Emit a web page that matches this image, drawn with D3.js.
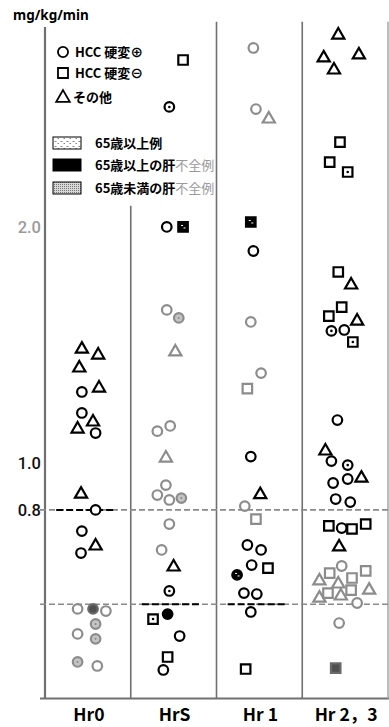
<!DOCTYPE html>
<html><head><meta charset="utf-8">
<script src="https://cdn.jsdelivr.net/npm/d3@7"></script>
<style>
html,body{margin:0;padding:0;background:#fff;}
svg{display:block;}
</style></head>
<body>
<script>
// ---- data ----
const categories = ["Hr0", "HrS", "Hr1", "Hr2,3"];
const categoryLabels = ["Hr0", "HrS", "Hr 1", "Hr 2，3"];
const tickValues = [2.0, 1.0, 0.8];
const tickLabels = ["2.0", "1.0", "0.8"];
const referenceLines = [0.8, 0.4];
const medianCats = ["Hr0", "HrS", "Hr1"];
const medianValues = [0.8, 0.4, 0.4];
// [value, jitter (fraction of column), shape, kind]
const hr0 = [
 [1.486,-0.07,'t','k'],[1.461,0.12,'t','k'],[1.406,-0.10,'t','k'],[1.321,0.13,'t','k'],
 [1.300,-0.07,'o','k'],[1.211,-0.07,'o','k'],[1.177,0.06,'t','k'],[1.147,-0.12,'t','k'],
 [1.126,0.09,'o','k'],[0.871,-0.08,'t','k'],[0.800,0.09,'o','k'],[0.710,-0.07,'o','k'],
 [0.651,0.09,'t','k'],[0.617,-0.08,'o','k'],
 [0.380,-0.12,'o','g'],[0.380,0.06,'o','gf'],[0.371,0.21,'o','g'],[0.316,0.09,'o','gd'],
 [0.274,-0.12,'o','g'],[0.253,0.09,'o','gd'],[0.155,-0.12,'o','gd'],[0.138,0.11,'o','g']
];
const hrS = [
 [2.708,0.11,'s','k'],[2.509,-0.05,'o','kd'],[2.000,-0.08,'o','k'],[2.000,0.11,'s','kfw'],
 [1.648,-0.08,'o','g'],[1.614,0.06,'o','gd'],[1.474,0.02,'t','g'],[1.156,-0.04,'o','g'],
 [1.134,-0.19,'o','g'],[1.024,-0.09,'t','g'],[0.905,-0.09,'o','g'],[0.863,-0.19,'o','g'],
 [0.842,-0.05,'o','g'],[0.850,0.09,'o','gd'],[0.740,-0.05,'o','g'],[0.630,-0.14,'o','g'],
 [0.562,0.00,'t','k'],[0.456,-0.05,'o','kd'],[0.358,-0.07,'o','kf'],[0.337,-0.24,'s','kd'],
 [0.265,0.07,'o','k'],[0.176,-0.07,'s','k'],[0.121,-0.12,'o','k']
];
const hr1 = [
 [2.759,-0.07,'o','g'],[2.500,-0.04,'o','g'],[2.462,0.11,'t','g'],[2.021,-0.10,'s','kfw'],
 [1.898,-0.07,'o','k'],[1.597,-0.10,'o','g'],[1.380,0.02,'o','g'],[1.314,-0.14,'s','g'],
 [1.026,-0.10,'o','k'],[0.869,0.01,'t','k'],[0.816,-0.17,'o','g'],[0.761,-0.04,'s','g'],
 [0.651,-0.14,'o','k'],[0.630,0.02,'o','k'],[0.566,-0.09,'o','k'],[0.553,0.10,'s','k'],
 [0.524,-0.26,'o','kfw'],[0.447,-0.18,'o','k'],[0.443,-0.03,'o','k'],[0.367,-0.10,'o','k'],
 [0.125,-0.16,'s','k']
];
const hr23 = [
 [2.818,-0.08,'t','k'],[2.721,-0.25,'t','k'],[2.734,0.16,'t','k'],[2.670,-0.13,'t','k'],
 [2.360,-0.06,'s','k'],[2.275,-0.18,'s','k'],[2.233,0.03,'s','kd'],[1.809,-0.08,'s','k'],
 [1.758,0.07,'t','k'],[1.660,-0.04,'s','k'],[1.622,-0.19,'s','k'],[1.605,0.14,'t','k'],
 [1.559,-0.16,'o','kd'],[1.563,-0.01,'o','k'],[1.512,0.09,'s','kd'],[1.181,-0.09,'o','k'],
 [1.054,-0.23,'t','k'],[1.007,-0.16,'o','k'],[0.990,0.03,'o','kd'],[0.931,0.03,'o','k'],
 [0.939,0.19,'t','k'],[0.914,-0.14,'o','k'],[0.846,-0.11,'o','k'],[0.833,0.06,'o','k'],
 [0.732,-0.19,'s','k'],[0.723,-0.04,'o','k'],[0.719,0.08,'s','k'],[0.740,0.24,'s','k'],
 [0.647,-0.07,'t','k'],
 [0.562,-0.04,'o','g'],[0.532,-0.18,'s','g'],[0.541,0.24,'s','g'],[0.503,-0.30,'t','g'],
 [0.511,0.08,'s','g'],[0.490,-0.08,'t','g'],[0.460,0.07,'s','g'],[0.464,0.28,'t','g'],
 [0.430,-0.30,'t','g'],[0.447,-0.20,'s','g'],[0.439,-0.05,'t','g'],[0.405,0.14,'o','g'],
 [0.320,-0.07,'o','g'],[0.129,-0.11,'s','gf']
];
const seriesByCat = [hr0, hrS, hr1, hr23];
const legendShapes = ['o','s','t'];
const legendShapeLabels = ['HCC 硬変⊕', 'HCC 硬変⊖', 'その他'];
const legendFillKinds = ['light','black','stipple'];
const legendFillLabels = [['65歳以上例',''], ['65歳以上の肝','不全例'], ['65歳未満の肝','不全例']];

// ---- drawing ----
const W = 389, H = 727;
const svg = d3.select('body').append('svg').attr('width', W).attr('height', H)
  .style('font-family', '"Noto Sans CJK JP", "Noto Sans", sans-serif');

const defs = svg.append('defs');
const pLight = defs.append('pattern').attr('id','pLight').attr('width',6).attr('height',5).attr('patternUnits','userSpaceOnUse');
pLight.append('rect').attr('width',6).attr('height',5).attr('fill','#fff');
pLight.append('path').attr('d','M0.5,1.5h2M3.5,3.5h1.5').attr('stroke','#777').attr('stroke-width',0.9);
const pSt = defs.append('pattern').attr('id','pSt').attr('width',2).attr('height',2).attr('patternUnits','userSpaceOnUse');
pSt.append('rect').attr('width',2).attr('height',2).attr('fill','#d8d8d8');
pSt.append('rect').attr('width',1).attr('height',1).attr('fill','#777');

const x = d3.scaleBand().domain(categories).range([45, 388]).paddingInner(0).paddingOuter(0);
const y = d3.scaleLinear().domain([0, 2.848]).range([698.5, 27]);
const bw = x.bandwidth();
const cx = c => x(c) + bw / 2;

const frameColor = '#707070';
// axis frame
svg.append('line').attr('x1', x.range()[0]).attr('x2', x.range()[0]).attr('y1', y(2.848)).attr('y2', y(0))
  .attr('stroke', frameColor).attr('stroke-width', 2.2);
svg.append('line').attr('x1', 40).attr('x2', W).attr('y1', y(0)).attr('y2', y(0))
  .attr('stroke', frameColor).attr('stroke-width', 2);
// column dividers
const dividerTops = [2.09, 2.87, 2.87];
categories.slice(1).forEach((c, i) => {
  svg.append('line').attr('x1', x(c)).attr('x2', x(c)).attr('y1', y(dividerTops[i])).attr('y2', y(0))
    .attr('stroke', frameColor).attr('stroke-width', 1.6);
});
svg.append('line').attr('x1', x.range()[1]).attr('x2', x.range()[1]).attr('y1', y(2.87)).attr('y2', y(0))
  .attr('stroke', '#a0a0a0').attr('stroke-width', 1.4);

// reference dashed lines
svg.selectAll('.ref').data(referenceLines).join('line')
  .attr('x1', 40).attr('x2', W).attr('y1', d => y(d)).attr('y2', d => y(d))
  .attr('stroke', '#8a8a8a').attr('stroke-width', 1.6).attr('stroke-dasharray', '6,3');
// median segments
svg.selectAll('.med').data(medianCats).join('line')
  .attr('x1', (c) => cx(c) - 0.37 * bw).attr('x2', (c) => cx(c) + 0.33 * bw)
  .attr('y1', (c, i) => y(medianValues[i])).attr('y2', (c, i) => y(medianValues[i]))
  .attr('stroke', '#000').attr('stroke-width', 2).attr('stroke-dasharray', '7,3');

// y tick labels
svg.selectAll('.tick').data(tickValues).join('text')
  .attr('x', 41).attr('y', d => y(d)).attr('dy', '0.36em').attr('text-anchor', 'end')
  .attr('font-family', 'Roboto, sans-serif').attr('font-size', 16.5).attr('font-weight', 500)
  .attr('fill', (d, i) => i === 0 ? '#9a9a9a' : '#111')
  .text((d, i) => tickLabels[i]);

// y unit
svg.append('text').attr('x', 13).attr('y', 20).attr('font-size', 13.5).attr('font-weight', 'bold')
  .attr('font-family', '"Noto Sans", sans-serif').text('mg/kg/min');

// x labels
svg.selectAll('.xl').data(categories).join('text')
  .attr('x', d => cx(d) + 1).attr('y', 721).attr('text-anchor', 'middle')
  .attr('font-size', 17.5).attr('font-weight', 'bold').attr('font-family', '"Noto Sans CJK JP", sans-serif')
  .text((d, i) => categoryLabels[i]);

// markers
const shapeType = {o: d3.symbolCircle, s: d3.symbolSquare, t: d3.symbolTriangle};
const shapeSize = {o: 72, s: 90, t: 64};
const style = {
  k:  {stroke:'#000', fill:'#fff'},
  kd: {stroke:'#000', fill:'#fff'},
  g:  {stroke:'#8c8c8c', fill:'#fff'},
  gd: {stroke:'#8c8c8c', fill:'#c4c4c4'},
  gf: {stroke:'#6a6a6a', fill:'#505050'},
  kf: {stroke:'#000', fill:'#000'},
  kfw:{stroke:'#000', fill:'#000'}
};
const sym = d3.symbol();
const pts = [];
seriesByCat.forEach((arr, ci) => arr.forEach(d => pts.push({cat: categories[ci], v: d[0], j: d[1], shape: d[2], kind: d[3]})));
const g = svg.append('g');
const mk = g.selectAll('g.m').data(pts).join('g').attr('class','m')
  .attr('transform', d => `translate(${cx(d.cat) + d.j * bw},${y(d.v) + (d.shape === 't' ? 1 : 0)})`);
mk.append('path')
  .attr('d', d => sym.type(shapeType[d.shape]).size(shapeSize[d.shape])())
  .attr('fill', d => style[d.kind].fill).attr('stroke', d => style[d.kind].stroke)
  .attr('stroke-width', 2.2).attr('stroke-linejoin', 'miter');
mk.filter(d => d.kind === 'kd').append('circle').attr('r', 1.3).attr('fill', '#000');
mk.filter(d => d.kind === 'kfw').append('path').attr('d', 'M-2,-1.5h2M0.5,1h2').attr('stroke', '#fff').attr('stroke-width', 1);
mk.filter(d => d.kind === 'gd').append('circle').attr('r', 1).attr('fill', '#888');

// legend: shapes
const lg = svg.append('g');
legendShapes.forEach((s, i) => {
  const yy = [52, 73, 97][i];
  lg.append('path').attr('transform', `translate(63,${yy + (s === 't' ? 1 : 0)})`)
    .attr('d', sym.type(shapeType[s]).size(s === 'o' ? 80 : s === 's' ? 100 : 80)())
    .attr('fill', '#fff').attr('stroke', '#000').attr('stroke-width', 1.8);
  lg.append('text').attr('x', s === 't' ? 73 : 75).attr('y', yy).attr('dy', '0.36em')
    .attr('font-size', 13).attr('font-weight', 'bold').text(legendShapeLabels[i]);
});
legendFillKinds.forEach((k, i) => {
  const yy = [143, 165, 188][i];
  lg.append('rect').attr('x', 53).attr('y', yy - 6).attr('width', 28).attr('height', 12)
    .attr('fill', k === 'light' ? 'url(#pLight)' : k === 'black' ? '#000' : 'url(#pSt)')
    .attr('stroke', '#000').attr('stroke-width', 1);
  const t = lg.append('text').attr('x', 95).attr('y', yy).attr('dy', '0.36em')
    .attr('font-size', 13).attr('font-weight', 'bold');
  t.append('tspan').text(legendFillLabels[i][0]);
  t.append('tspan').attr('fill', '#9a9a9a').attr('font-weight', 'normal').text(legendFillLabels[i][1]);
});
</script>
</body></html>
